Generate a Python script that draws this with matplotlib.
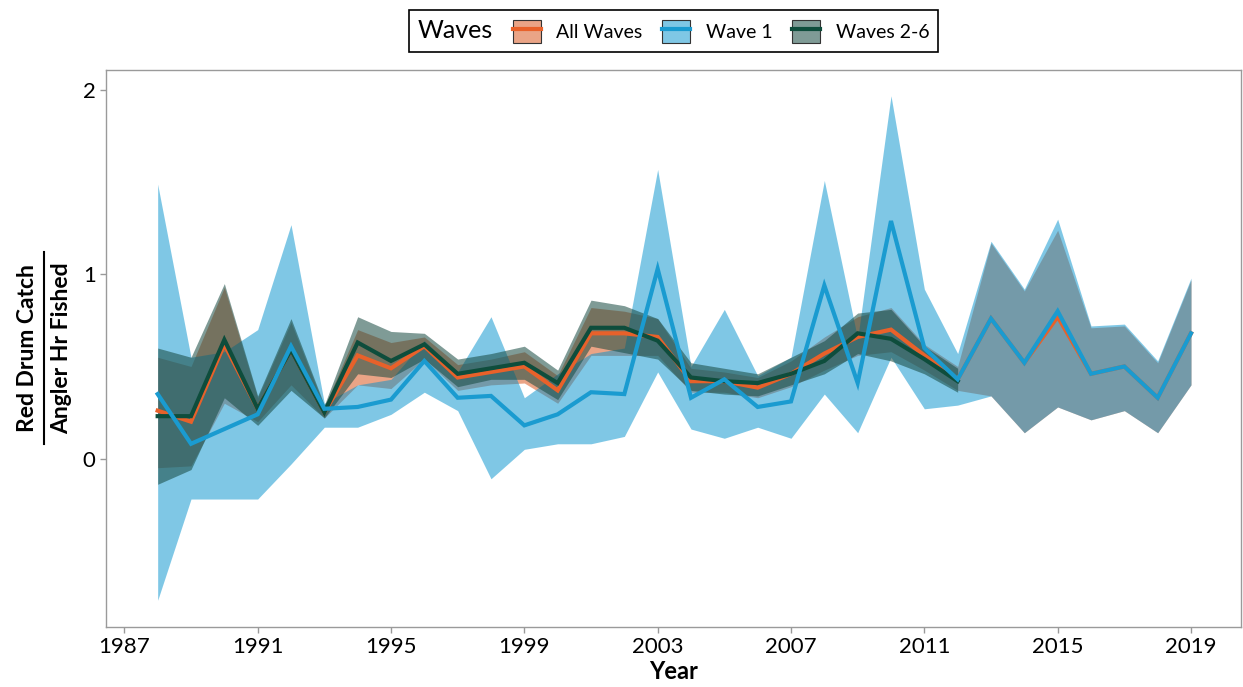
# Red drum catch per angler hour, by wave group
import numpy as np
import matplotlib
matplotlib.use('Agg')
import matplotlib.pyplot as plt
from matplotlib.patches import Patch
from matplotlib.lines import Line2D
from matplotlib.legend_handler import HandlerTuple

plt.rcParams['font.family'] = ['Lato', 'DejaVu Sans']

#%% data
years = list(range(1988, 2020))
years_26 = list(range(1988, 2013))

wave1 = [0.35, 0.08, 0.16, 0.24, 0.61, 0.27, 0.28, 0.32, 0.53, 0.33, 0.34, 0.18, 0.24, 0.36, 0.35, 1.03,
         0.33, 0.43, 0.28, 0.31, 0.94, 0.41, 1.29, 0.60, 0.43, 0.76, 0.52, 0.80, 0.46, 0.50, 0.33, 0.68]
wave1_hi = [1.49, 0.55, 0.58, 0.70, 1.27, 0.30, 0.40, 0.43, 0.64, 0.47, 0.77, 0.33, 0.46, 0.57, 0.60, 1.57,
            0.50, 0.81, 0.45, 0.55, 1.51, 0.65, 1.97, 0.92, 0.57, 1.18, 0.92, 1.30, 0.72, 0.73, 0.53, 0.98]
wave1_lo = [-0.77, -0.22, -0.22, -0.22, -0.03, 0.17, 0.17, 0.24, 0.36, 0.26, -0.11, 0.05, 0.08, 0.08, 0.12, 0.47,
            0.16, 0.11, 0.17, 0.11, 0.35, 0.14, 0.55, 0.27, 0.29, 0.34, 0.14, 0.28, 0.21, 0.26, 0.14, 0.40]

all_waves = [0.26, 0.20, 0.62, 0.27, 0.59, 0.25, 0.56, 0.49, 0.61, 0.44, 0.47, 0.50, 0.37, 0.68, 0.68, 0.66,
             0.42, 0.42, 0.385, 0.46, 0.57, 0.66, 0.70, 0.56, 0.43, 0.76, 0.52, 0.77, 0.46, 0.50, 0.33, 0.68]
all_hi = [0.55, 0.50, 0.93, 0.33, 0.74, 0.28, 0.70, 0.63, 0.66, 0.51, 0.54, 0.58, 0.45, 0.82, 0.80, 0.76,
          0.49, 0.47, 0.44, 0.53, 0.66, 0.77, 0.82, 0.62, 0.50, 1.17, 0.91, 1.24, 0.71, 0.72, 0.52, 0.97]
all_lo = [-0.05, -0.04, 0.30, 0.20, 0.40, 0.22, 0.40, 0.38, 0.54, 0.37, 0.40, 0.41, 0.30, 0.56, 0.56, 0.56,
          0.36, 0.36, 0.33, 0.39, 0.48, 0.56, 0.58, 0.48, 0.37, 0.34, 0.14, 0.28, 0.21, 0.26, 0.14, 0.40]

waves26 = [0.23, 0.23, 0.645, 0.27, 0.59, 0.25, 0.63, 0.53, 0.62, 0.46, 0.49, 0.52, 0.41, 0.71, 0.71, 0.64,
           0.44, 0.42, 0.41, 0.46, 0.53, 0.68, 0.65, 0.54, 0.42]
waves26_hi = [0.60, 0.55, 0.95, 0.34, 0.76, 0.29, 0.77, 0.69, 0.68, 0.54, 0.57, 0.61, 0.48, 0.86, 0.83, 0.76,
              0.52, 0.49, 0.46, 0.55, 0.64, 0.79, 0.81, 0.61, 0.49]
waves26_lo = [-0.14, -0.06, 0.33, 0.18, 0.37, 0.22, 0.46, 0.44, 0.54, 0.39, 0.43, 0.43, 0.32, 0.61, 0.575, 0.54,
              0.37, 0.35, 0.34, 0.40, 0.46, 0.57, 0.53, 0.46, 0.36]

labels = ['All Waves', 'Wave 1', 'Waves 2-6']
fill_cols = ['#D74B0F', '#0091CD', '#164940']
fill_alpha = [0.5, 0.5, 0.55]
line_cols = ['#E8612A', '#1A9BD0', '#0E4D3C']

#%% plot
fig = plt.figure(figsize=(12.43, 6.87), dpi=100)
ax = fig.add_axes([106 / 1243, 1 - 627 / 687, (1241 - 106) / 1243, (627 - 70) / 687])

series = [(years, all_waves, all_lo, all_hi),
          (years, wave1, wave1_lo, wave1_hi),
          (years_26, waves26, waves26_lo, waves26_hi)]

# ribbons first, then lines
for (x, y, lo, hi), fc, a in zip(series, fill_cols, fill_alpha):
    ax.fill_between(x, lo, hi, color=fc, alpha=a, lw=0)

for i in [0, 2, 1]:
    x, y, lo, hi = series[i]
    ax.plot(x, y, color=line_cols[i], lw=3.0, solid_joinstyle='miter')

ax.set_xlim(1986.45, 2020.5)
ax.set_ylim(-0.915, 2.11)
ax.set_xticks(range(1987, 2020, 4))
ax.set_yticks([0, 1, 2])
ax.tick_params(labelsize=16, length=4, color='#999999', width=1)
for s in ax.spines.values():
    s.set_color('#9a9a9a')
    s.set_linewidth(1.0)

ax.set_xlabel('Year', fontsize=17, fontweight='bold', labelpad=2)

# y label drawn as a fraction
fig.text(28 / 1243, 1 - 348 / 687, 'Red Drum Catch', rotation=90, ha='center', va='center',
         fontsize=16.5, fontweight='bold')
fig.text(62 / 1243, 1 - 348 / 687, 'Angler Hr Fished', rotation=90, ha='center', va='center',
         fontsize=16.5, fontweight='bold')
fig.add_artist(Line2D([44 / 1243, 44 / 1243], [1 - 252 / 687, 1 - 444 / 687],
                      transform=fig.transFigure, color='black', lw=1.5))

# legend with title on the left, keys = ribbon box with line through
handles = []
for fc, a, lc in zip(fill_cols, fill_alpha, line_cols):
    p = Patch(facecolor=matplotlib.colors.to_rgba(fc, a), edgecolor='#333333', lw=0.8)
    ln = Line2D([], [], color=lc, lw=3)
    handles.append((p, ln))

leg = ax.legend(handles, labels, title='Waves', ncol=3, loc='center',
                bbox_to_anchor=(0.5, 1.07), handler_map={tuple: HandlerTuple(ndivide=1, pad=0)},
                fontsize=14, title_fontsize=18, frameon=True, fancybox=False,
                edgecolor='black', framealpha=1, handlelength=1.45, handleheight=1.45,
                columnspacing=1.0, handletextpad=0.8, borderpad=0.45)
leg.get_frame().set_linewidth(1.2)
vp = leg._legend_box
title_box, hp = vp.get_children()[0], vp.get_children()[1]
vp._children = [hp]
hp._children = [title_box] + hp.get_children()

fig.savefig('out.png', dpi=100)
